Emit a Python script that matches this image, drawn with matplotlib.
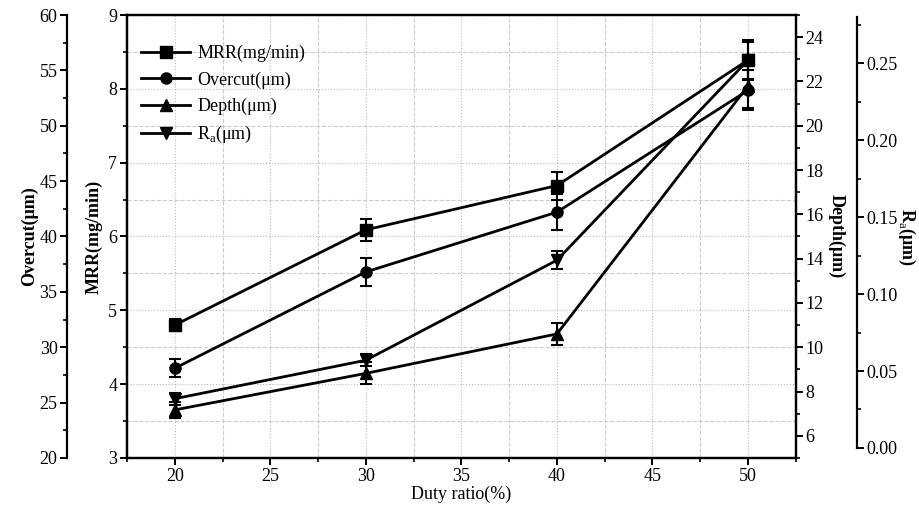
import numpy as np
import matplotlib
matplotlib.use("Agg")
import matplotlib.pyplot as plt
from matplotlib.ticker import MultipleLocator
from matplotlib.lines import Line2D

plt.rcParams['font.family'] = 'Liberation Serif'
plt.rcParams['mathtext.fontset'] = 'custom'
plt.rcParams['mathtext.rm'] = 'Liberation Serif'
plt.rcParams['mathtext.bf'] = 'Liberation Serif:bold'

duty = [20, 30, 40, 50]
mrr = [4.80, 6.09, 6.69, 8.39]
mrr_err = [0.08, 0.15, 0.19, 0.27]
overcut = [28.1, 36.8, 42.2, 53.2]
overcut_err = [0.8, 1.25, 1.6, 1.8]
depth = [7.17, 8.82, 10.6, 21.8]
depth_err = [0.35, 0.5, 0.5, 1.0]
ra = [0.032, 0.057, 0.122, 0.252]
ra_err = [0.004, 0.004, 0.006, 0.012]

fs = 13
lw = 2.0

fig = plt.figure(figsize=(9.2, 5.12), dpi=100)
ax = fig.add_axes([0.138, 0.1055, 0.727, 0.8652])
ax_oc = ax.twinx()
ax_d = ax.twinx()
ax_ra = ax.twinx()

eb = dict(color='black', lw=lw, ms=8, capsize=4, elinewidth=1.5, capthick=1.5)
ax.errorbar(duty, mrr, yerr=mrr_err, fmt='-s', **eb)
ax_oc.errorbar(duty, overcut, yerr=overcut_err, fmt='-o', **eb)
ax_d.errorbar(duty, depth, yerr=depth_err, fmt='-^', **eb)
ax_ra.errorbar(duty, ra, yerr=ra_err, fmt='-v', **eb)

# main axis (MRR)
ax.set_xlim(17.5, 52.5)
ax.set_ylim(3, 9)
ax.xaxis.set_major_locator(MultipleLocator(5))
ax.xaxis.set_minor_locator(MultipleLocator(2.5))
ax.yaxis.set_major_locator(MultipleLocator(1))
ax.yaxis.set_minor_locator(MultipleLocator(0.5))
ax.grid(which='major', color='#bbbbbb', ls=':', lw=0.8)
ax.grid(which='minor', color='#cccccc', ls='--', lw=0.8)
ax.set_xlabel('Duty ratio(%)', fontsize=fs, labelpad=1)
ax.set_ylabel('MRR(mg/min)', fontsize=fs, fontweight='bold', labelpad=4)

# overcut axis on outer left
ax_oc.set_ylim(20, 60)
ax_oc.yaxis.set_major_locator(MultipleLocator(5))
ax_oc.yaxis.set_minor_locator(MultipleLocator(2.5))
ax_oc.yaxis.set_ticks_position('left')
ax_oc.yaxis.set_label_position('left')
ax_oc.spines['left'].set_position(('outward', 43))
ax_oc.spines['left'].set_visible(True)
for s in ['right', 'top', 'bottom']:
    ax_oc.spines[s].set_visible(False)
ax_oc.set_ylabel('Overcut(μm)', fontsize=fs, fontweight='bold', labelpad=1)

# depth axis on inner right
ax_d.set_ylim(5, 25)
ax_d.yaxis.set_major_locator(MultipleLocator(2))
ax_d.yaxis.set_minor_locator(MultipleLocator(1))
ax_d.set_ylabel('Depth(μm)', fontsize=fs, fontweight='bold', rotation=270, labelpad=15)

# Ra axis on outer right
ax_ra.set_ylim(-0.0065, 0.2813)
ax_ra.yaxis.set_major_locator(MultipleLocator(0.05))
ax_ra.yaxis.set_minor_locator(MultipleLocator(0.025))
ax_ra.yaxis.set_major_formatter(plt.FormatStrFormatter('%.2f'))
ax_ra.spines['right'].set_position(('outward', 44))
ax_ra.spines['right'].set_bounds(0, 0.28)
for s in ['left', 'top', 'bottom']:
    ax_ra.spines[s].set_visible(False)
ax_ra.set_ylabel(r'R$_\mathrm{a}$(μm)', fontsize=fs, fontweight='bold', rotation=270, labelpad=14)

for a in [ax, ax_oc, ax_d, ax_ra]:
    a.tick_params(which='major', direction='out', length=5, width=1.4, labelsize=fs, pad=2)
    a.tick_params(which='minor', direction='out', length=3, width=1.2)
    for s in a.spines.values():
        s.set_linewidth(1.6)
ax.tick_params(axis='x', which='both', top=False)

# legend shows line + marker only
names = ['MRR(mg/min)', 'Overcut(μm)', 'Depth(μm)', r'R$_\mathrm{a}$(μm)']
marks = ['s', 'o', '^', 'v']
handles = [Line2D([], [], color='black', lw=lw, marker=m, ms=8) for m in marks]
ax_ra.legend(handles, names, loc='upper left', frameon=False,
             fontsize=fs, handlelength=2.7, handletextpad=0.4, labelspacing=0.5,
             bbox_to_anchor=(0.0, 0.965), borderaxespad=0.4)

fig.savefig('out.png', dpi=100)
